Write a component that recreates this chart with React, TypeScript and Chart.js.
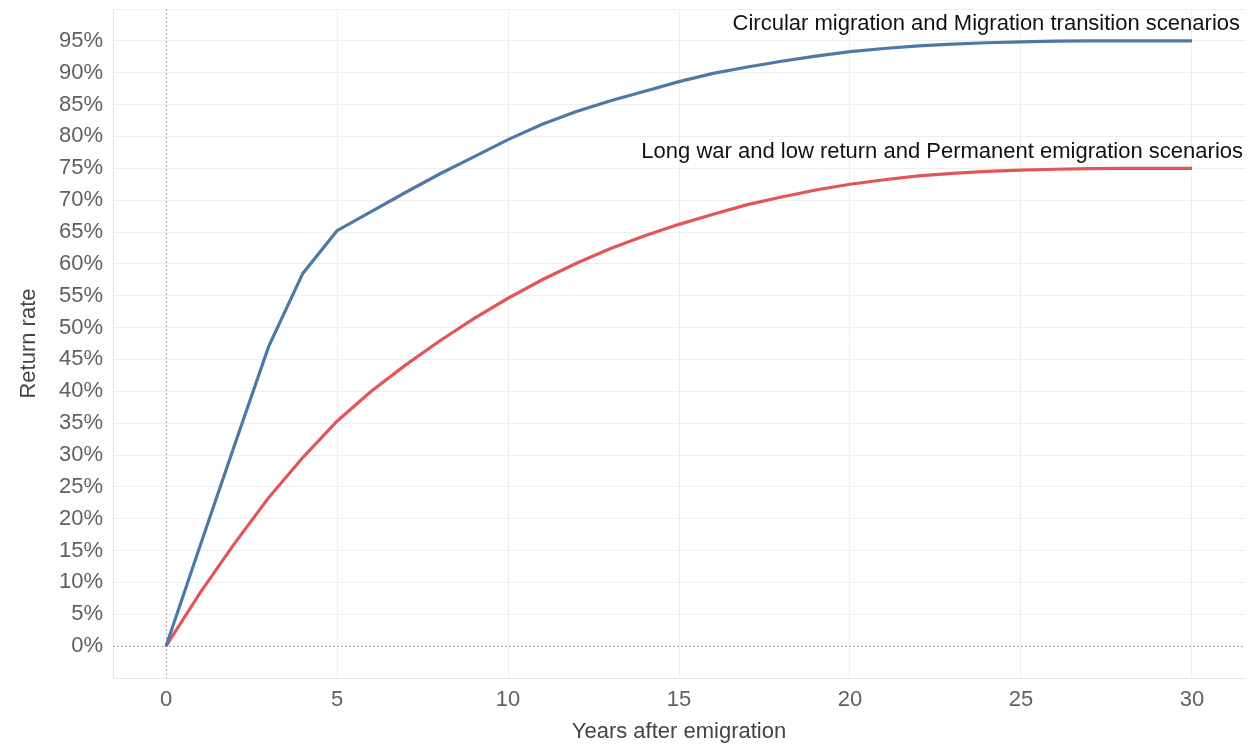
import React, { useEffect, useRef } from "react";
import { Chart, registerables } from "chart.js";

Chart.register(...registerables);

const years = [0,1,2,3,4,5,6,7,8,9,10,11,12,13,14,15,16,17,18,19,20,21,22,23,24,25,26,27,28,29,30];
const circularMigration = [0,15.8,31.5,47,58.5,65.2,68.2,71.2,74.1,76.8,79.5,81.9,83.9,85.6,87.1,88.6,89.9,90.9,91.8,92.6,93.3,93.8,94.2,94.5,94.7,94.85,94.95,95,95,95,95];
const longWar = [0,8.4,16.1,23.3,29.6,35.3,40.0,44.1,47.9,51.4,54.6,57.5,60.1,62.4,64.4,66.2,67.8,69.3,70.5,71.6,72.5,73.2,73.8,74.2,74.5,74.7,74.85,74.95,75,75,75];
const xTickValues = [0,5,10,15,20,25,30];
const yTickValues = [0,5,10,15,20,25,30,35,40,45,50,55,60,65,70,75,80,85,90,95,100];
const yLabelledMax = 95;
const labelCircular = "Circular migration and Migration transition scenarios";
const labelLongWar = "Long war and low return and Permanent emigration scenarios";

const FONT = "'Liberation Sans', Arial, Helvetica, sans-serif";

export default function App() {
  const ref = useRef<HTMLCanvasElement | null>(null);

  useEffect(() => {
    document.body.style.margin = "0";
    const canvas = ref.current;
    if (!canvas) return;

    const overlay = {
      id: "overlay",
      beforeDatasetsDraw(chart: any) {
        const { ctx, chartArea, scales } = chart;
        const x = scales.x;
        const y = scales.y;
        ctx.save();
        ctx.strokeStyle = "#a8a8a8";
        ctx.lineWidth = 1;
        ctx.setLineDash([2, 2]);
        const x0 = Math.round(x.getPixelForValue(0)) + 0.5;
        ctx.beginPath();
        ctx.moveTo(x0, chartArea.top);
        ctx.lineTo(x0, chartArea.bottom);
        ctx.stroke();
        const y0 = Math.round(y.getPixelForValue(0)) + 0.5;
        ctx.beginPath();
        ctx.moveTo(chartArea.left, y0);
        ctx.lineTo(chartArea.right, y0);
        ctx.stroke();
        ctx.restore();
      },
      afterDatasetsDraw(chart: any) {
        const { ctx, scales } = chart;
        const y = scales.y;
        ctx.save();
        ctx.fillStyle = "#111111";
        ctx.font = `22px ${FONT}`;
        ctx.textAlign = "right";
        ctx.textBaseline = "middle";
        ctx.fillText(labelCircular, 1240, y.getPixelForValue(97.6));
        ctx.fillText(labelLongWar, 1243, y.getPixelForValue(77.6));
        ctx.restore();
      },
    };

    const chart = new Chart(canvas, {
      type: "line",
      data: {
        datasets: [
          {
            label: labelCircular,
            data: years.map((t, i) => ({ x: t, y: circularMigration[i] })),
            borderColor: "#4e79a7",
            borderWidth: 3.2,
            pointRadius: 0,
            tension: 0,
            fill: false,
          },
          {
            label: labelLongWar,
            data: years.map((t, i) => ({ x: t, y: longWar[i] })),
            borderColor: "#e15759",
            borderWidth: 3.2,
            pointRadius: 0,
            tension: 0,
            fill: false,
          },
        ],
      },
      options: {
        animation: false,
        responsive: false,
        layout: { padding: { top: 9, right: 3, left: 0, bottom: 0 } },
        plugins: {
          legend: { display: false },
          tooltip: { enabled: false },
        },
        scales: {
          x: {
            type: "linear",
            min: -1.55,
            max: 31.55,
            afterBuildTicks: (scale: any) => {
              scale.ticks = xTickValues.map((v) => ({ value: v }));
            },
            afterFit: (scale: any) => {
              scale.height = 68;
              scale.paddingLeft = 0;
              scale.paddingRight = 0;
            },
            grid: {
              drawTicks: false,
              color: (c: any) => (c.tick && c.tick.value === 0 ? "rgba(0,0,0,0)" : "#eeeeee"),
              lineWidth: 1,
            },
            border: { display: true, color: "#e6e6e6" },
            ticks: {
              padding: 9,
              color: "#606060",
              font: { family: FONT, size: 22 },
              maxRotation: 0,
            },
            title: {
              display: true,
              text: "Years after emigration",
              color: "#444444",
              font: { family: FONT, size: 22 },
              padding: { top: 0, bottom: 1 },
            },
          },
          y: {
            type: "linear",
            min: -5,
            max: 100,
            afterBuildTicks: (scale: any) => {
              scale.ticks = yTickValues.map((v) => ({ value: v }));
            },
            afterFit: (scale: any) => {
              scale.width = 113;
              scale.paddingTop = 0;
              scale.paddingBottom = 0;
            },
            grid: {
              drawTicks: false,
              color: (c: any) => (c.tick && c.tick.value === 0 ? "rgba(0,0,0,0)" : "#eeeeee"),
              lineWidth: 1,
            },
            border: { display: true, color: "#e6e6e6" },
            ticks: {
              padding: 10,
              color: "#606060",
              font: { family: FONT, size: 22 },
              callback: (v: any) => (Number(v) <= yLabelledMax ? `${v}%` : ""),
            },
            title: {
              display: true,
              text: "Return rate",
              color: "#444444",
              font: { family: FONT, size: 22 },
              padding: { top: 16, bottom: 0 },
            },
          },
        },
      },
      plugins: [overlay],
    });

    return () => chart.destroy();
  }, []);

  return (
    <div style={{ width: 1248, height: 746, background: "#ffffff" }}>
      <canvas ref={ref} width={1248} height={746} />
    </div>
  );
}
